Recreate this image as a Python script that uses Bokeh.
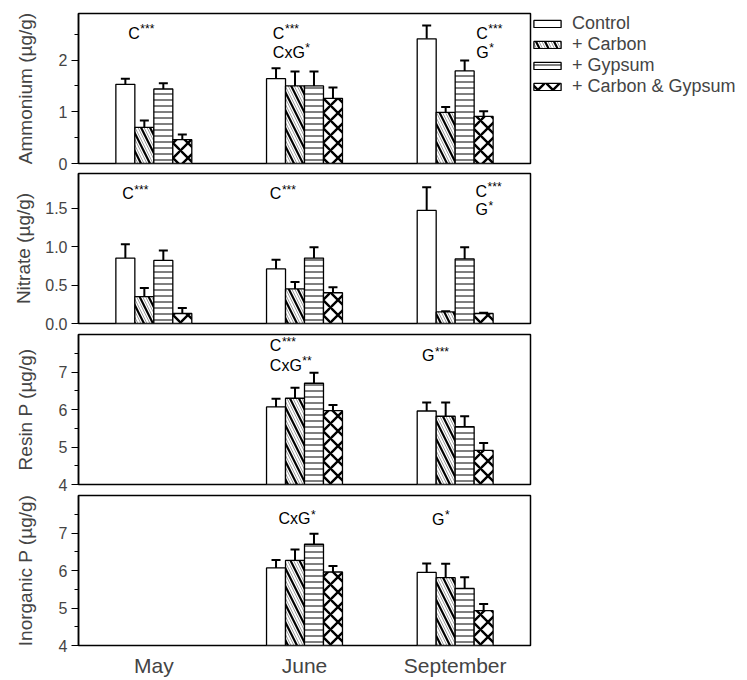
import math
from bokeh.plotting import figure
from bokeh.models import (Range1d, FactorRange, FixedTicker, NumeralTickFormatter,
                          Whisker, TeeHead, ColumnDataSource, Label, Legend, LegendItem)
from bokeh.transform import dodge
from bokeh.layouts import column
from bokeh.embed import file_html
from bokeh.resources import INLINE

NaN = float("nan")
months = ["May", "June", "September"]
treatments = ["Control", "+ Carbon", "+ Gypsum", "+ Carbon & Gypsum"]

# Ammonium (ug/g)
amm_control = [1.53, 1.64, 2.41]
amm_control_se = [0.11, 0.20, 0.26]
amm_carbon = [0.70, 1.50, 0.99]
amm_carbon_se = [0.13, 0.28, 0.10]
amm_gypsum = [1.44, 1.50, 1.79]
amm_gypsum_se = [0.11, 0.28, 0.20]
amm_cg = [0.46, 1.26, 0.91]
amm_cg_se = [0.10, 0.21, 0.10]

# Nitrate (ug/g)
nit_control = [0.85, 0.71, 1.47]
nit_control_se = [0.18, 0.12, 0.30]
nit_carbon = [0.35, 0.45, 0.15]
nit_carbon_se = [0.11, 0.09, 0.01]
nit_gypsum = [0.82, 0.85, 0.84]
nit_gypsum_se = [0.13, 0.14, 0.15]
nit_cg = [0.13, 0.40, 0.13]
nit_cg_se = [0.07, 0.07, 0.01]

# Resin P (ug/g)
res_control = [NaN, 6.07, 5.96]
res_control_se = [NaN, 0.22, 0.23]
res_carbon = [NaN, 6.30, 5.82]
res_carbon_se = [NaN, 0.28, 0.37]
res_gypsum = [NaN, 6.70, 5.54]
res_gypsum_se = [NaN, 0.28, 0.28]
res_cg = [NaN, 5.97, 4.91]
res_cg_se = [NaN, 0.15, 0.20]

# Inorganic P (ug/g)
inp_control = [NaN, 6.07, 5.95]
inp_control_se = [NaN, 0.21, 0.24]
inp_carbon = [NaN, 6.27, 5.81]
inp_carbon_se = [NaN, 0.29, 0.37]
inp_gypsum = [NaN, 6.70, 5.52]
inp_gypsum_se = [NaN, 0.28, 0.30]
inp_cg = [NaN, 5.96, 4.93]
inp_cg_se = [NaN, 0.16, 0.18]

# significance annotations: (x position in month units, y, main text, stars)
amm_notes = [(0.33, 2.52, "C", "***"), (1.29, 2.52, "C", "***"), (1.29, 2.15, "CxG", "*"),
             (2.64, 2.52, "C", "***"), (2.64, 2.15, "G", "*")]
nit_notes = [(0.29, 1.69, "C", "***"), (1.27, 1.69, "C", "***"),
             (2.635, 1.72, "C", "***"), (2.635, 1.48, "G", "*")]
res_notes = [(1.27, 7.70, "C", "***"), (1.27, 7.18, "CxG", "**"), (2.28, 7.43, "G", "***")]
inp_notes = [(1.327, 7.38, "CxG", "*"), (2.347, 7.37, "G", "*")]

FONT = "Liberation Sans"
BAR_W = 0.126
OFFS = [-1.5 * BAR_W, -0.5 * BAR_W, 0.5 * BAR_W, 1.5 * BAR_W]
TEXT_W = {"C": 11.6, "G": 12.5, "CxG": 32.0}


def make_panel(ylabel, yr, ticks, minor, fmt, series, notes, label_standoff,
               top_border, bottom_border, show_x=False, legend=False):
    p = figure(x_range=FactorRange(factors=months, range_padding=0),
               y_range=Range1d(*yr), frame_width=452, frame_height=150,
               min_border_left=78, min_border_right=217 if not legend else 0,
               min_border_top=top_border, min_border_bottom=bottom_border,
               output_backend="svg", toolbar_location=None,
               x_axis_location="below" if show_x else None)
    p.grid.visible = False
    p.outline_line_color = "black"
    p.outline_line_width = 1.5
    p.background_fill_color = "white"
    p.border_fill_color = "white"

    ya = p.yaxis[0]
    ya.ticker = FixedTicker(ticks=ticks, minor_ticks=minor)
    if fmt:
        ya.formatter = NumeralTickFormatter(format=fmt)
    ya.axis_label = ylabel
    ya.axis_label_text_font = FONT
    ya.axis_label_text_font_size = "19px"
    ya.axis_label_text_font_style = "normal"
    ya.axis_label_standoff = label_standoff
    ya.major_label_text_font = FONT
    ya.major_label_text_font_size = "16px"
    ya.major_label_standoff = 4
    ya.major_tick_in = 0
    ya.major_tick_out = 7
    ya.minor_tick_in = 0
    ya.minor_tick_out = 4
    ya.axis_line_width = 1.5
    ya.major_tick_line_width = 1.2
    ya.minor_tick_line_width = 1.2

    if show_x:
        xa = p.xaxis[0]
        xa.major_tick_out = 0
        xa.major_tick_in = 0
        xa.axis_line_color = None
        xa.major_label_text_font = FONT
        xa.major_label_text_font_size = "21px"
        xa.major_label_standoff = 8

    base = yr[0]
    rends = []
    for i, (vals, errs) in enumerate(series):
        src = ColumnDataSource(dict(month=months, top=vals,
                                    upper=[v + e for v, e in zip(vals, errs)]))
        xd = dodge("month", OFFS[i], range=p.x_range)
        w = Whisker(base=xd, lower="top", upper="upper", source=src,
                    dimension="height", line_width=2, line_color="black",
                    lower_head=None,
                    upper_head=TeeHead(size=9, line_width=2, line_color="black"))
        p.add_layout(w)
        common = dict(x=xd, top="top", bottom=base, width=BAR_W, source=src)
        if i == 0:
            r = p.vbar(fill_color="white", line_color="black", line_width=1.3, **common)
            rs = [r]
        elif i == 1:
            r1 = p.vbar(fill_color="white", line_color=None,
                        hatch_pattern="\\", hatch_color="#a0a0a0",
                        hatch_weight=1.0, hatch_scale=6, **common)
            r2 = p.vbar(fill_color=None, line_color="black", line_width=1.3,
                        hatch_pattern="\\", hatch_color="black",
                        hatch_weight=2.2, hatch_scale=18, **common)
            rs = [r1, r2]
        elif i == 2:
            r = p.vbar(fill_color="white", line_color="black", line_width=1.3,
                       hatch_pattern="-", hatch_color="black",
                       hatch_weight=1.0, hatch_scale=6, **common)
            rs = [r]
        else:
            r = p.vbar(fill_color="white", line_color="black", line_width=1.3,
                       hatch_pattern="x", hatch_color="black",
                       hatch_weight=2.4, hatch_scale=15, **common)
            rs = [r]
        rends.append(rs)

    for (x, y, main, stars) in notes:
        p.add_layout(Label(x=x, y=y, text=main, text_font=FONT,
                           text_font_size="16px", text_baseline="middle",
                           text_align="left", text_color="black"))
        p.add_layout(Label(x=x, y=y, text=stars, text_font=FONT,
                           text_font_size="12px", text_baseline="middle",
                           text_align="left", text_color="black",
                           x_offset=TEXT_W[main] + 0.5, y_offset=4))

    if legend:
        items = [LegendItem(label=t, renderers=rs) for t, rs in zip(treatments, rends)]
        lg = Legend(items=items, location="top_left", orientation="vertical",
                    border_line_color=None, background_fill_alpha=0,
                    glyph_width=34, glyph_height=9, label_height=16,
                    label_standoff=8, spacing=0, padding=6, margin=0,
                    label_text_font=FONT, label_text_font_size="18px")
        p.add_layout(lg, "right")
    return p


p1 = make_panel("Ammonium (µg/g)", (0, 2.9), [0, 1, 2], [0.5, 1.5, 2.5], None,
                [(amm_control, amm_control_se), (amm_carbon, amm_carbon_se),
                 (amm_gypsum, amm_gypsum_se), (amm_cg, amm_cg_se)],
                amm_notes, 20, 13, 9, legend=True)
p2 = make_panel("Nitrate (µg/g)", (0, 1.95), [0, 0.5, 1.0, 1.5], [], "0.0",
                [(nit_control, nit_control_se), (nit_carbon, nit_carbon_se),
                 (nit_gypsum, nit_gypsum_se), (nit_cg, nit_cg_se)],
                nit_notes, 8, 1, 10)
p3 = make_panel("Resin P (µg/g)", (4, 8), [4, 5, 6, 7], [4.5, 5.5, 6.5, 7.5], None,
                [(res_control, res_control_se), (res_carbon, res_carbon_se),
                 (res_gypsum, res_gypsum_se), (res_cg, res_cg_se)],
                res_notes, 20, 1, 10)
p4 = make_panel("Inorganic P (µg/g)", (4, 8), [4, 5, 6, 7], [4.5, 5.5, 6.5, 7.5], None,
                [(inp_control, inp_control_se), (inp_carbon, inp_carbon_se),
                 (inp_gypsum, inp_gypsum_se), (inp_cg, inp_cg_se)],
                inp_notes, 20, 1, 35, show_x=True)

layout = column(p1, p2, p3, p4, spacing=0)
open("out.html", "w").write(file_html(layout, INLINE))
